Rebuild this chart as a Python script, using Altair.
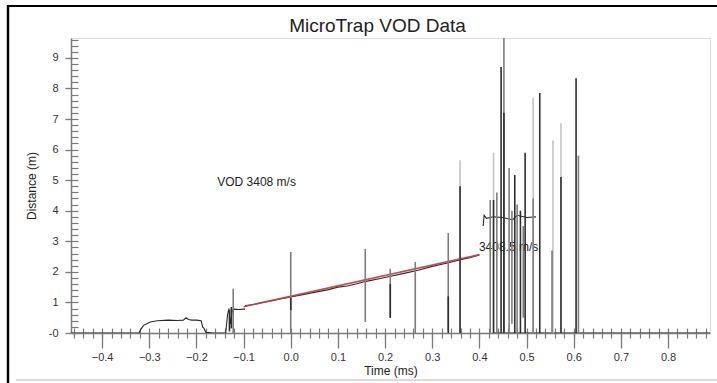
import altair as alt
import pandas as pd

# ---- recorded probe trace (time in ms, distance in m); seg splits broken pieces
trace_t = [-0.466, -0.322, -0.318, -0.312, -0.305, -0.298, -0.283, -0.26, -0.24, -0.228, -0.222, -0.217, -0.21, -0.2, -0.19, -0.187, -0.184, -0.18, -0.165, -0.15, -0.138,
           -0.138, -0.134, -0.131, -0.128, -0.124, -0.12, -0.11, -0.1, -0.097,
           -0.097, -0.095, -0.08, -0.06, -0.04, -0.02, -0.005, 0.0, 0.02, 0.05, 0.08, 0.1, 0.12, 0.14, 0.16, 0.19, 0.21, 0.24, 0.27, 0.3, 0.33, 0.36, 0.38, 0.4,
           0.408, 0.41, 0.415, 0.43, 0.45, 0.47, 0.48, 0.5, 0.52,
           0.43, 0.889]
trace_d = [0, 0, 0.12, 0.25, 0.3, 0.36, 0.4, 0.42, 0.41, 0.42, 0.5, 0.44, 0.42, 0.42, 0.4, 0.2, 0.15, 0.02, 0, 0, 0,
           0, 0.6, 0.8, 0.3, 0.75, 0.78, 0.77, 0.78, 0.78,
           0.9, 0.9, 0.93, 1.0, 1.06, 1.12, 1.16, 1.18, 1.24, 1.33, 1.42, 1.5, 1.54, 1.61, 1.69, 1.78, 1.85, 1.95, 2.05, 2.18, 2.28, 2.4, 2.46, 2.55,
           3.5, 3.85, 3.75, 3.8, 3.78, 3.7, 3.85, 3.78, 3.8,
           0, 0]
trace_seg = [0] * 21 + [1] * 9 + [2] * 24 + [3] * 9 + [4] * 2

# ---- fitted velocity line (slope 3.4085 m/ms = 3408.5 m/s)
fit_t = [-0.1, 0.4]
fit_d = [0.859, 2.56325]

# ---- noise spikes: time, low, high, strength
spike_t = [0.359, 0.430, 0.514, 0.556, 0.573,
           -0.122, 0.000, 0.158, 0.211, 0.264, 0.334, 0.452, 0.463, 0.514, 0.554, 0.610, 0.423, 0.437, 0.469, 0.493, 0.480,
           -0.130, -0.126, 0.000, 0.211, 0.334, 0.359, 0.430, 0.446, 0.452, 0.475, 0.487, 0.497, 0.528, 0.573, 0.605]
spike_lo = [0.0, 0.0, 0.0, 0.0, 0.0,
            0.0, 0.0, 0.36, 0.49, 0.0, 0.05, 0.0, 0.0, 0.0, 0.0, 0.0, 0.0, 0.0, 0.3, 0.5, 0.0,
            0.05, 0.15, 0.75, 0.5, 0.0, 0.0, 0.0, 0.0, 0.0, 0.0, 0.0, 0.0, 0.0, 0.0, 0.0]
spike_hi = [5.65, 5.9, 7.7, 6.3, 6.86,
            1.45, 2.65, 2.75, 2.1, 2.32, 3.27, 9.65, 5.4, 4.4, 2.7, 5.8, 4.35, 4.6, 4.0, 3.5, 4.2,
            0.75, 0.85, 1.15, 1.6, 1.2, 4.8, 4.35, 8.7, 7.2, 5.17, 4.0, 5.9, 7.85, 5.1, 8.33]
spike_kind = ["weak"] * 5 + ["medium"] * 16 + ["strong"] * 15

# ---- annotations
note_t = [-0.156, 0.399]
note_d = [4.93, 2.81]
note_text = ["VOD 3408 m/s", "3408.5 m/s"]

# ---- axis ticks
x_major = [-0.4, -0.3, -0.2, -0.1, 0.0, 0.1, 0.2, 0.3, 0.4, 0.5, 0.6, 0.7, 0.8]
x_minor = [round(-0.46 + 0.02 * i, 2) for i in range(68)]
y_major = [0, 1, 2, 3, 4, 5, 6, 7, 8, 9]
y_minor = [round(0.2 * i, 1) for i in range(49)]

trace = pd.DataFrame({"t": trace_t, "d": trace_d, "seg": trace_seg})
fit = pd.DataFrame({"t": fit_t, "d": fit_d})
spikes = pd.DataFrame({"t": spike_t, "d": spike_lo, "hi": spike_hi, "kind": spike_kind})
notes = pd.DataFrame({"t": note_t, "d": note_d, "text": note_text})

FONT = "Liberation Sans"
GREY = "#7a7a7a"
xs = alt.Scale(domain=[-0.466, 0.889], nice=False, zero=False)
ys = alt.Scale(domain=[0, 9.65], nice=False, zero=False)

main = alt.Chart(trace).mark_line(color="#2a2a2a", strokeWidth=1.1, clip=True).encode(
    x=alt.X("t:Q", scale=xs, axis=alt.Axis(
        orient="bottom", values=x_major, format=".1f", tickSize=15, grid=False,
        domainColor=GREY, tickColor=GREY, domainWidth=1.5, tickWidth=1.3,
        labelFont=FONT, labelFontSize=11, labelColor="#333", labelPadding=3,
        title="Time (ms)", titleFont=FONT, titleFontSize=12, titleFontWeight="normal",
        titleColor="#222", titlePadding=3)),
    y=alt.Y("d:Q", scale=ys, axis=alt.Axis(
        orient="left", values=y_major, tickSize=6, grid=False,
        labelExpr="datum.value == 0 ? '-0' : datum.label",
        domainColor=GREY, tickColor=GREY, domainWidth=1.5, tickWidth=1.3,
        labelFont=FONT, labelFontSize=11, labelColor="#333", labelPadding=7,
        title="Distance (m)", titleFont=FONT, titleFontSize=12, titleFontWeight="normal",
        titleColor="#222", titlePadding=10)),
    detail="seg:N",
)

minor = alt.Chart(trace).mark_line(opacity=0).encode(
    x=alt.X("t:Q", scale=xs, axis=alt.Axis(
        orient="bottom", values=x_minor, labels=False, tickSize=10, offset=-5,
        domain=False, grid=False, title=None, tickColor=GREY, tickWidth=1.2)),
    y=alt.Y("d:Q", scale=ys, axis=alt.Axis(
        orient="left", values=y_minor, labels=False, tickSize=7, offset=-7,
        domain=False, grid=False, title=None, tickColor=GREY, tickWidth=1.2)),
)

fit_line = alt.Chart(fit).mark_line(color="#b8464f", strokeWidth=1.6, opacity=0.95).encode(
    x=alt.X("t:Q", scale=xs, axis=None),
    y=alt.Y("d:Q", scale=ys, axis=None),
)

labels = alt.Chart(notes).mark_text(align="left", baseline="middle", font=FONT, fontSize=12, color="#222").encode(
    x=alt.X("t:Q", scale=xs, axis=None),
    y=alt.Y("d:Q", scale=ys, axis=None),
    text="text:N",
)

spike_rules = alt.Chart(spikes).mark_rule(strokeWidth=1.6, clip=True).encode(
    x=alt.X("t:Q", scale=xs, axis=None),
    y=alt.Y("d:Q", scale=ys, axis=None),
    y2="hi:Q",
    color=alt.Color("kind:N", legend=None, scale=alt.Scale(
        domain=["weak", "medium", "strong"], range=["#c4c4c4", "#7d7d7d", "#2e2e2e"])),
)

# outer frame of the figure
frame = alt.Chart(fit).mark_rect(fill="transparent", stroke="#000", strokeWidth=2.2).encode(
    x=alt.value(-63), x2=alt.value(700), y=alt.value(-32), y2=alt.value(420),
)
bottom_band = alt.Chart(fit).mark_rule(color="#dcdcdc", strokeWidth=2).encode(
    x=alt.value(-55), x2=alt.value(646), y=alt.value(342),
)

chart = alt.layer(
    minor, main, fit_line, labels, spike_rules, frame, bottom_band
).resolve_axis(x="independent", y="independent").properties(
    width=639,
    height=295,
    autosize=alt.AutoSizeParams(type="none"),
    padding={"left": 71, "top": 38, "right": 7, "bottom": 50},
    title=alt.TitleParams("MicroTrap VOD Data", font=FONT, fontSize=19, fontWeight="normal",
                          color="#222", anchor="middle", baseline="bottom", dx=-13, dy=55, offset=5),
).configure_view(stroke="#8f8f8f", strokeWidth=1.6).configure(background="white")

chart.save("out.html", embed_options={"renderer": "svg", "actions": False})
